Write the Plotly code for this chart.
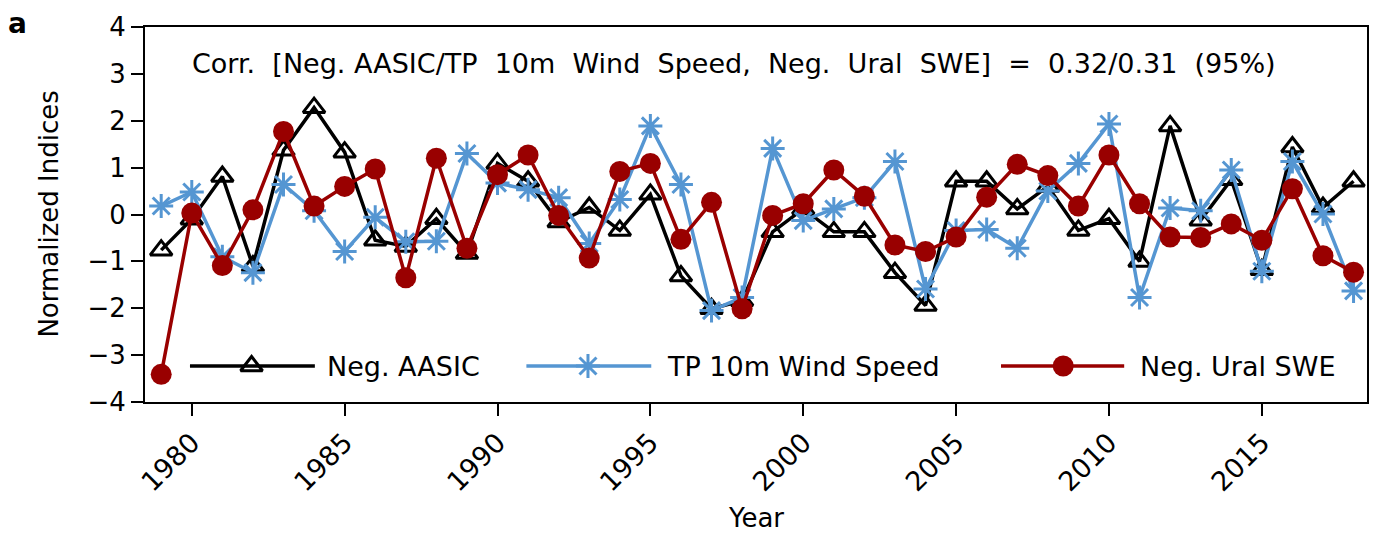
import plotly.graph_objects as go

years = list(range(1979, 2019))

neg_aasic = [-0.76, -0.10, 0.81, -1.10, 1.37, 2.28, 1.33, -0.55, -0.68, -0.09,
             -0.83, 1.09, 0.71, -0.16, 0.15, -0.34, 0.43, -1.31, -2.01, -1.84,
             -0.37, 0.12, -0.37, -0.37, -1.24, -1.94, 0.71, 0.71, 0.12, 0.60,
             -0.34, -0.09, -1.00, 1.89, -0.12, 0.74, -1.18, 1.44, 0.15, 0.71]

tp_wind = [0.18, 0.48, -0.90, -1.24, 0.64, 0.08, -0.79, -0.06, -0.58, -0.57,
           1.30, 0.67, 0.53, 0.36, -0.62, 0.32, 1.89, 0.64, -2.05, -1.77,
           1.41, -0.13, 0.12, 0.36, 1.13, -1.59, -0.34, -0.32, -0.72, 0.50,
           1.09, 1.93, -1.77, 0.14, 0.08, 0.95, -1.21, 1.13, 0.01, -1.63]

neg_ural_swe = [-3.41, 0.03, -1.09, 0.10, 1.77, 0.18, 0.60, 0.97, -1.35, 1.20,
                -0.72, 0.85, 1.27, -0.02, -0.93, 0.92, 1.09, -0.53, 0.26, -2.01,
                -0.02, 0.23, 0.95, 0.39, -0.65, -0.79, -0.48, 0.37, 1.07, 0.83,
                0.18, 1.27, 0.23, -0.48, -0.49, -0.20, -0.55, 0.55, -0.88, -1.23]

series_names = ["Neg. AASIC", "TP 10m Wind Speed", "Neg. Ural SWE"]
x_ticks = [1980, 1985, 1990, 1995, 2000, 2005, 2010, 2015]
y_ticks = [-4, -3, -2, -1, 0, 1, 2, 3, 4]
title_text = "Corr.  [Neg. AASIC/TP  10m  Wind  Speed,  Neg.  Ural  SWE]  =  0.32/0.31  (95%)"

BLACK = "#000000"
BLUE = "#5596d2"
RED = "#990000"
FONT = "DejaVu Sans"

styles = [
    dict(color=BLACK, marker=dict(symbol="triangle-up-open", size=19, color=BLACK,
                                  line=dict(width=3, color=BLACK))),
    dict(color=BLUE, marker=dict(symbol="asterisk-open", size=20, color=BLUE,
                                 line=dict(width=3, color=BLUE))),
    dict(color=RED, marker=dict(symbol="circle", size=21, color=RED,
                                line=dict(width=0, color=RED))),
]

fig = go.Figure()
for vals, st in zip([neg_aasic, tp_wind, neg_ural_swe], styles):
    fig.add_trace(go.Scatter(x=years, y=vals, mode="lines+markers",
                             line=dict(color=st["color"], width=3.5),
                             marker=st["marker"], showlegend=False,
                             cliponaxis=False))

# manual legend drawn on an overlay axis (0..1)
leg_y = 0.096
leg_lines = [(0.0368, 0.139, 0.0872), (0.3121, 0.4143, 0.3625), (0.7005, 0.8013, 0.7514)]
leg_text_x = [0.1477, 0.4252, 0.8122]
for (x0, x1, xm), st, name, tx in zip(leg_lines, styles, series_names, leg_text_x):
    fig.add_trace(go.Scatter(x=[x0, x1], y=[leg_y, leg_y], mode="lines",
                             line=dict(color=st["color"], width=3.5),
                             xaxis="x2", yaxis="y2", showlegend=False, hoverinfo="skip"))
    fig.add_trace(go.Scatter(x=[xm], y=[leg_y], mode="markers", marker=st["marker"],
                             xaxis="x2", yaxis="y2", showlegend=False, hoverinfo="skip"))
    fig.add_annotation(x=tx, y=leg_y, xref="paper", yref="paper", text=name,
                       showarrow=False, xanchor="left", yanchor="middle",
                       font=dict(family=FONT, size=27, color=BLACK))

fig.add_annotation(x=0.4816, y=0.9016, xref="paper", yref="paper", text=title_text,
                   showarrow=False, xanchor="center", yanchor="middle",
                   font=dict(family=FONT, size=27, color=BLACK))
fig.add_annotation(x=-0.114, y=1.008, xref="paper", yref="paper", text="<b>a</b>",
                   showarrow=False, xanchor="left", yanchor="middle",
                   font=dict(family=FONT, size=28, color=BLACK))
fig.add_annotation(x=-0.0793, y=0.5, xref="paper", yref="paper", text="Normalized Indices",
                   showarrow=False, textangle=-90, xanchor="center", yanchor="middle",
                   font=dict(family=FONT, size=26, color=BLACK))
fig.add_annotation(x=0.5, y=-0.308, xref="paper", yref="paper", text="Year",
                   showarrow=False, xanchor="center", yanchor="middle",
                   font=dict(family=FONT, size=26, color=BLACK))

fig.update_layout(
    width=1381, height=538,
    margin=dict(l=145, r=13, t=19, b=136),
    paper_bgcolor="white", plot_bgcolor="white",
    font=dict(family=FONT, size=26, color=BLACK),
    xaxis=dict(range=[1978.47, 2018.44], tickvals=x_ticks, tickangle=-45,
               ticks="outside", ticklen=12, tickwidth=2, tickcolor=BLACK,
               showline=True, linewidth=2, linecolor=BLACK, mirror=True,
               showgrid=False, zeroline=False, tickfont=dict(size=27)),
    yaxis=dict(range=[-4, 4], tickvals=y_ticks,
               ticktext=[str(v).replace("-", "\u2212") for v in y_ticks],
               ticks="outside", ticklen=12, tickwidth=2, tickcolor=BLACK,
               showline=True, linewidth=2, linecolor=BLACK, mirror=True,
               showgrid=False, zeroline=False, tickfont=dict(size=26)),
    xaxis2=dict(range=[0, 1], overlaying="x", visible=False),
    yaxis2=dict(range=[0, 1], overlaying="y", visible=False),
)

fig.write_html("out.html")
